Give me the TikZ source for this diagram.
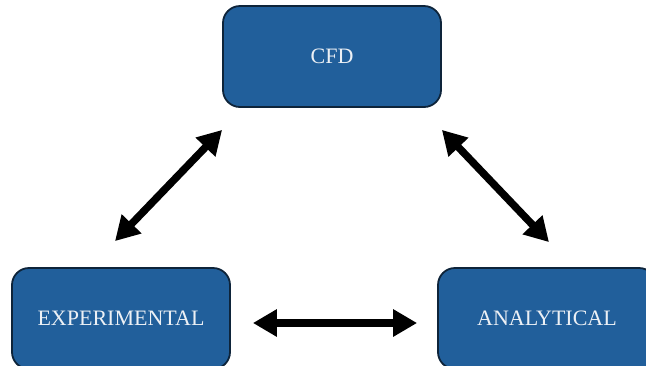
\documentclass[tikz,border=0pt]{standalone}
\usetikzlibrary{calc,positioning,arrows.meta}
\usepackage{fontspec}
\setmainfont{Liberation Serif}
\definecolor{boxblue}{RGB}{33,95,155}
\definecolor{boxedge}{RGB}{14,36,58}
\definecolor{boxtext}{RGB}{236,240,245}

\begin{document}
\begin{tikzpicture}[x=1pt, y=-1pt,
    block/.style={draw=boxedge, line width=1.8pt, fill=boxblue, rounded corners=17pt,
        minimum width=218pt, minimum height=101pt, inner sep=0pt,
        text=boxtext, font=\fontsize{22}{24}\selectfont},
    link/.style={line width=7.5pt, {Triangle[length=24pt,width=26pt]}-{Triangle[length=24pt,width=26pt]}}]

    \useasboundingbox (0, 0) rectangle (646, 365);
    \clip (0, 0) rectangle (646, 365);

    \node[block] (cfd) at (332, 56.5) {CFD};
    \node[block] (exp) at (121, 318.5) {EXPERIMENTAL};
    \node[block] (ana) at (547, 318.5) {ANALYTICAL};

    \coordinate (cfd l) at ([yshift=-22pt]cfd.south west);
    \coordinate (cfd r) at ([yshift=-22pt]cfd.south east);
    \coordinate (exp t) at ([xshift=-6pt, yshift=26pt]exp.north);
    \coordinate (ana t) at ([xshift=2pt, yshift=25pt]ana.north);
    \coordinate (exp r) at ([xshift=22pt, yshift=-4.5pt]exp.east);
    \coordinate (ana l) at ([xshift=-20pt, yshift=-4.5pt]ana.west);

    \draw[link] (exp t) -- (cfd l);
    \draw[link] (cfd r) -- (ana t);
    \draw[link] (exp r) -- (ana l);

\end{tikzpicture}
\end{document}
